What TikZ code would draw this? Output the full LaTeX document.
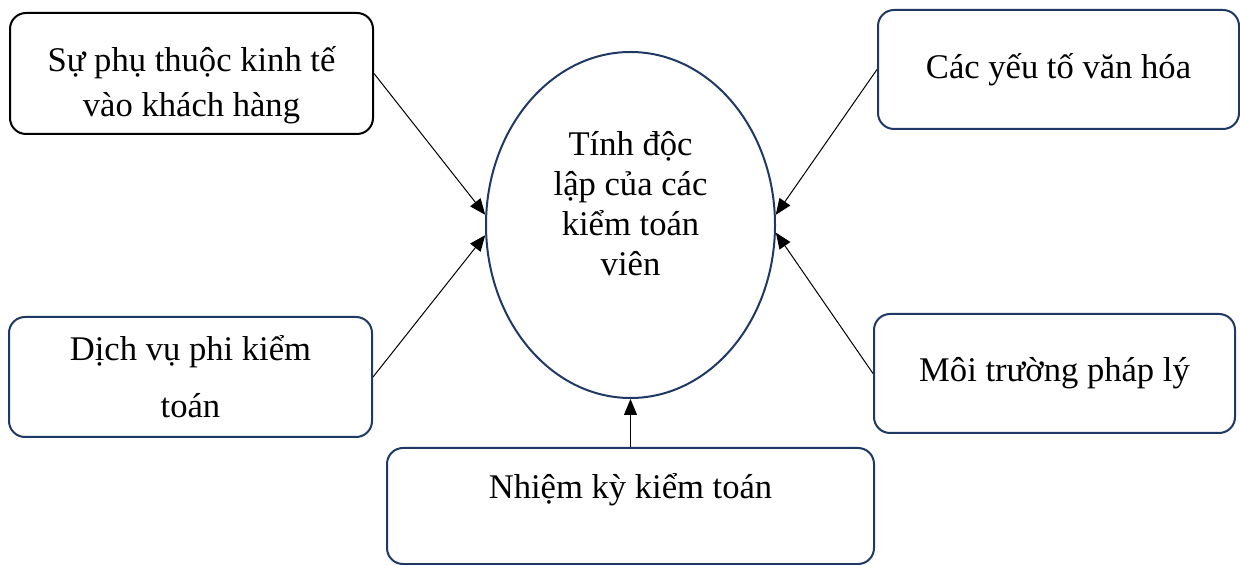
\documentclass[tikz,border=0pt]{standalone}
\usepackage{fontspec}
\setmainfont{Liberation Serif}
\usetikzlibrary{shapes,arrows.meta,positioning}
\definecolor{navy}{RGB}{31,56,100}

\begin{document}
\begin{tikzpicture}[x=0.5pt,y=-0.5pt]
			\tikzstyle{Factor}	= [rectangle, draw=navy, line width=1pt, rounded corners=8pt, inner sep=0pt, align=center, font=\fontsize{17.3}{20}\selectfont]
			\tikzstyle{Core}	= [ellipse, draw=navy, line width=1pt, inner sep=0pt, minimum width=144.5pt, minimum height=173pt, align=center, font=\fontsize{17.3}{20}\selectfont]
			\tikzstyle{Link}	= [-{Triangle[length=8pt,width=6.5pt]}, line width=0.5pt, black]
			
			\useasboundingbox (0,0) rectangle (1240,565);
			
			\node (indep) at (630.5,225) [Core][text depth=22pt] {Tính độc\\lập của các\\kiểm toán\\viên};
			\node (econ) at (191.5,73.5) [Factor][draw=black, minimum width=181.5pt, minimum height=60.5pt] {\rule{0pt}{24pt}Sự phụ thuộc kinh tế\\[2.5pt]vào khách hàng};
			\node (nonaudit) at (190.5,377) [Factor][minimum width=181.5pt, minimum height=60pt] {Dịch vụ phi kiểm\\[8.5pt]toán};
			\node (culture) at (1058.5,69.5) [Factor][minimum width=180.5pt, minimum height=59.5pt] {Các yếu tố văn hóa};
			\node (legal) at (1054.5,373.5) [Factor][minimum width=180.5pt, minimum height=59.5pt] {Môi trường pháp lý};
			\node (tenure) at (630.5,506) [Factor][minimum width=243.5pt, minimum height=58pt, text depth=20pt] {Nhiệm kỳ kiểm toán};
			
			\foreach \a/\s/\b in {econ/east/176, nonaudit/east/184, culture/west/4, legal/west/357, tenure/north/270}
				\draw [Link] (\a.\s) to (indep.\b);
		\end{tikzpicture}
\end{document}
